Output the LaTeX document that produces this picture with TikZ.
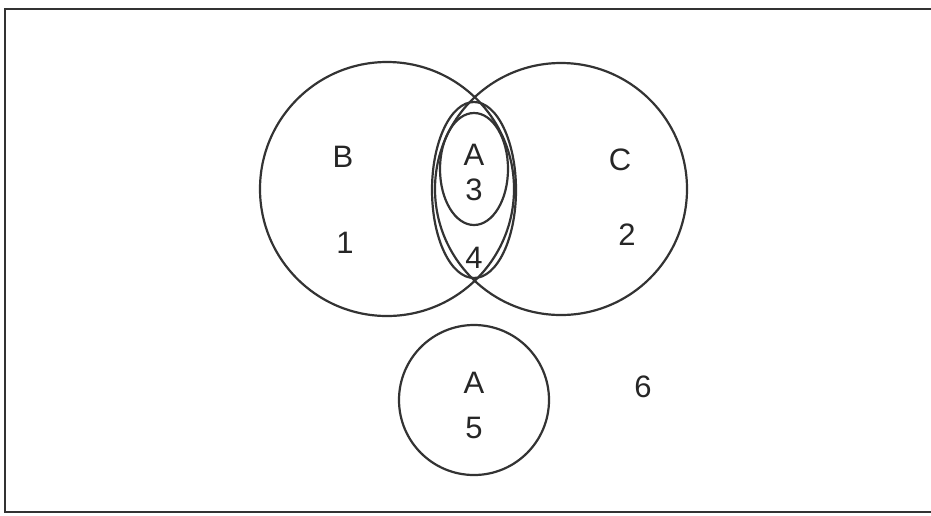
\documentclass[tikz,border=0pt]{standalone}
\usepackage{fontspec}
\setmainfont{Liberation Sans}
\begin{document}
\begin{tikzpicture}[x=1pt, y=-1pt,
    set/.style={draw, line width=2.2pt, black!80},
    lbl/.style={font=\fontsize{31}{31}\selectfont, black!85}]
    \useasboundingbox (0,0) rectangle (931,515);

    % frame (right side runs off the picture)
    \draw[line width=2.8pt, black!80] (931,9) -- (5,9) -- (5,512) -- (931,512);

    % sets B and C
    \draw[set] (387,189) circle[radius=127pt];
    \draw[set] (561,189) circle[radius=126pt];

    % A inside the overlap
    \draw[set] (474,190) ellipse[x radius=42pt, y radius=88pt];
    \draw[set] (474,169) ellipse[x radius=34pt, y radius=56pt];

    % the other A
    \draw[set] (474,400) circle[radius=75pt];

    % labels
    \foreach \name/\x/\y/\txt in {b/343/157/B, c/620/160/C, a1/474/155/A, a2/474/383/A,
        r1/345/243/1, r2/627/235/2, r3/474/190/3, r4/474/258/4, r5/474/428/5, r6/643/387/6} {
        \node[lbl] (\name) at (\x,\y) {\txt};
    }
\end{tikzpicture}
\end{document}
